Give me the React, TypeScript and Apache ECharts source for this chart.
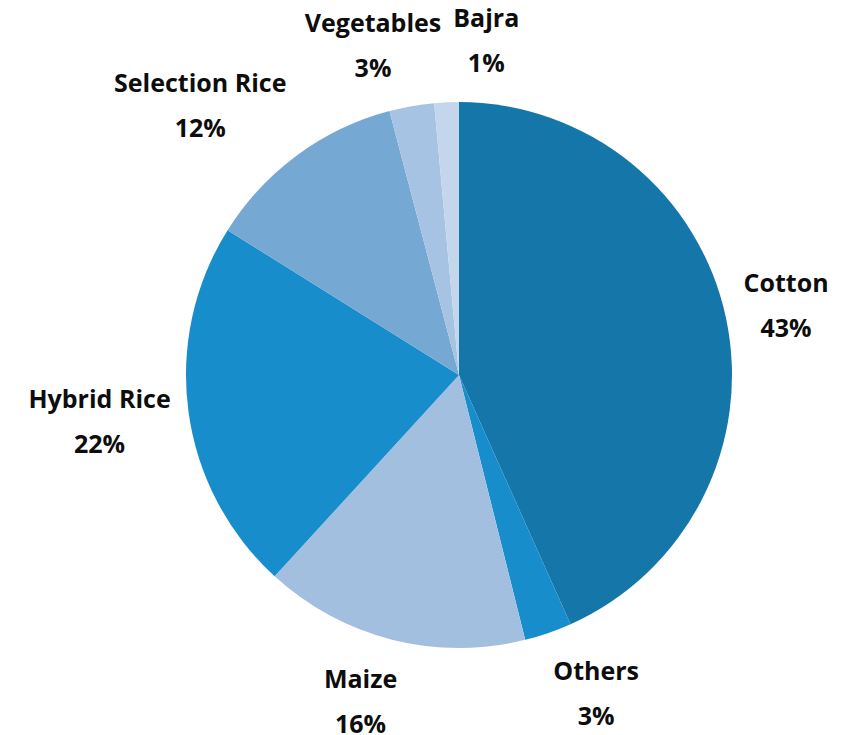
import React, { useEffect, useRef } from "react";
import * as echarts from "echarts";

const categories = ["Cotton", "Others", "Maize", "Hybrid Rice", "Selection Rice", "Vegetables", "Bajra"];
const shares = [43.3, 2.8, 15.7, 22.1, 12.0, 2.65, 1.45];
const sliceColors = ["#1476A9", "#178DCB", "#A3BFDF", "#178DCB", "#75A8D3", "#A6C3E3", "#C4D6EC"];

export default function App() {
  const ref = useRef<HTMLDivElement>(null);
  useEffect(() => {
    document.body.style.margin = "0";
    const chart = echarts.init(ref.current!, null, { renderer: "svg" });
    const cx = 459, cy = 375, R = 273, gap = 18, sep = 12;
    const total = shares.reduce((a, b) => a + b, 0);
    const mids: number[] = [];
    let acc = 0;
    shares.forEach((v) => {
      mids.push(((acc + v / 2) / total) * 2 * Math.PI);
      acc += v;
    });
    const placed: { x: number; y: number; w: number; h: number }[] = [];
    const layout = (p: any) => {
      const i = p.dataIndex;
      const w = p.labelRect.width, h = p.labelRect.height;
      const a = mids[i];
      const s = Math.sin(a), c = Math.cos(a);
      let x = cx + (R + gap) * s + Math.sign(s) * (w / 2) * Math.min(1, 3 * Math.abs(s));
      const y = cy - (R + gap + h / 2) * c;
      for (let j = 0; j < i; j++) {
        const q = placed[j];
        if (!q) continue;
        if (Math.abs(x - q.x) < (w + q.w) / 2 + sep && Math.abs(y - q.y) < (h + q.h) / 2) {
          const dir = x >= q.x ? 1 : -1;
          x = q.x + dir * ((w + q.w) / 2 + sep);
        }
      }
      placed[i] = { x, y, w, h };
      return { x, y, align: "center", verticalAlign: "middle" };
    };
    chart.setOption({
      animation: false,
      series: [
        {
          type: "pie",
          center: [cx, cy],
          radius: R,
          startAngle: 90,
          clockwise: true,
          avoidLabelOverlap: false,
          data: categories.map((name, i) => ({
            name,
            value: shares[i],
            itemStyle: { color: sliceColors[i] },
          })),
          itemStyle: { borderWidth: 0 },
          label: {
            show: true,
            position: "outside",
            formatter: (p: any) => `${p.name}\n${Math.round(p.percent)}%`,
            fontFamily: "Open Sans",
            fontWeight: "bold",
            fontSize: 25,
            lineHeight: 45,
            color: "#0d0d0d",
            align: "center",
          },
          labelLine: { show: false },
          labelLayout: layout,
          emphasis: { disabled: true },
        },
      ],
    });
    return () => chart.dispose();
  }, []);
  return <div ref={ref} style={{ width: 853, height: 735 }} />;
}
